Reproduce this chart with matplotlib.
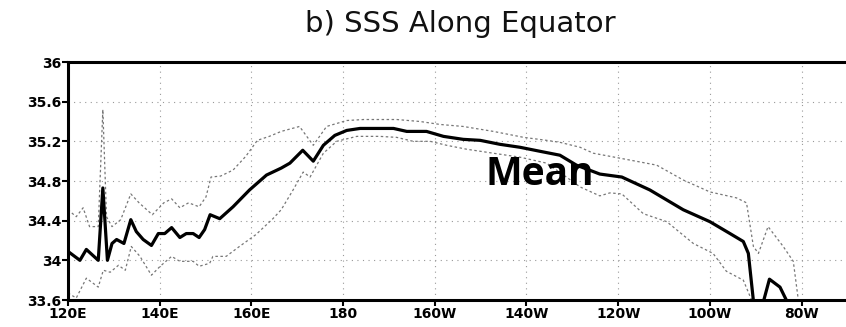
import numpy as np
import matplotlib
matplotlib.use("Agg")
import matplotlib.pyplot as plt

# ---- data (longitude in degrees east, SSS in psu) ----
lon_mean = [120, 122.6, 124, 126.6, 127.6, 128.6, 129.6, 130.6, 132.2, 133.7, 134.9, 136.4,
            138.2, 139.7, 141.1, 142.6, 144.4, 145.8, 147.3, 148.6, 149.8, 151.0, 153.1,
            156, 159.6, 163.3, 166.5, 168.4, 171.2, 173.5, 175.7, 178.2, 180.8, 183.7, 188,
            191, 193.9, 198.2, 201.9, 206.2, 209.9, 214.2, 218.6, 222.9, 227.3, 230.9, 236,
            240.8, 246.9, 254.2, 260, 264.4, 267.3, 268.4, 269.6, 270.4, 271.2, 273, 275.3,
            277.1, 278]
sss_mean = [34.09, 34.0, 34.11, 34.0, 34.73, 34.0, 34.17, 34.21, 34.17, 34.41, 34.29, 34.21,
            34.15, 34.27, 34.27, 34.33, 34.23, 34.27, 34.27, 34.23, 34.31, 34.46, 34.42,
            34.54, 34.71, 34.86, 34.93, 34.98, 35.11, 35.0, 35.16, 35.26, 35.31, 35.33, 35.33,
            35.33, 35.30, 35.30, 35.25, 35.22, 35.21, 35.17, 35.14, 35.10, 35.06, 34.96, 34.87,
            34.84, 34.71, 34.51, 34.39, 34.27, 34.19, 34.07, 33.55, 33.2, 33.5, 33.81, 33.73,
            33.56, 33.4]

lon_upper = [120, 121.8, 123.3, 124.7, 126.6, 127.6, 128.4, 129.6, 131.5, 133.7, 135.5, 138.4,
             140.9, 142.6, 144.4, 146.3, 148.6, 150.1, 151.2, 153.3, 156, 158.8, 161.3, 163.9,
             166.5, 170.5, 173.5, 176.4, 180.8, 184.5, 188, 191.7, 196.8, 201.2, 206.2, 212.8,
             219.4, 224.4, 227.3, 231.7, 234.6, 240.4, 248.4, 254.2, 260, 265.8, 268, 269.5,
             270.6, 272.7, 276, 278.2, 279.3, 280]
sss_upper = [34.51, 34.44, 34.53, 34.34, 34.34, 35.52, 34.44, 34.34, 34.41, 34.67, 34.58, 34.46,
             34.58, 34.62, 34.53, 34.58, 34.54, 34.64, 34.84, 34.85, 34.91, 35.05, 35.21, 35.25,
             35.30, 35.35, 35.16, 35.35, 35.41, 35.42, 35.42, 35.42, 35.40, 35.37, 35.35, 35.30,
             35.24, 35.21, 35.19, 35.14, 35.08, 35.03, 34.96, 34.81, 34.69, 34.63, 34.58, 34.14,
             34.07, 34.34, 34.14, 33.99, 33.6, 33.4]

lon_lower = [120, 121.8, 124, 126.6, 127.7, 129.2, 131, 132.5, 133.8, 135.7, 138.2, 140.1,
             142.6, 144.4, 147.3, 148.6, 150.9, 151.6, 154.5, 157.4, 161, 164.7, 166.5, 169.1,
             171.3, 172.8, 175.7, 178.6, 183, 188, 191.7, 195.3, 199, 202.6, 207, 212.8,
             218.6, 224.4, 227.5, 231.7, 236, 238.2, 240.8, 245.5, 250.6, 256.4, 260.7, 263.6,
             267.3, 269.1, 270]
sss_lower = [33.67, 33.62, 33.82, 33.73, 33.90, 33.88, 33.95, 33.90, 34.14, 34.04, 33.85, 33.94,
             34.04, 33.99, 33.99, 33.94, 33.97, 34.04, 34.04, 34.14, 34.26, 34.42, 34.51, 34.71,
             34.89, 34.84, 35.08, 35.20, 35.25, 35.25, 35.24, 35.20, 35.20, 35.16, 35.12, 35.08,
             35.04, 34.98, 34.88, 34.74, 34.65, 34.68, 34.67, 34.47, 34.39, 34.17, 34.07, 33.89,
             33.80, 33.6, 33.4]

xtick_vals = [120, 140, 160, 180, 200, 220, 240, 260, 280]
xtick_labels = ['120E', '140E', '160E', '180', '160W', '140W', '120W', '100W', '80W']
ytick_vals = [33.6, 34.0, 34.4, 34.8, 35.2, 35.6, 36.0]
ytick_labels = ['33.6', '34', '34.4', '34.8', '35.2', '35.6', '36']

# ---- figure ----
fig = plt.figure(figsize=(8.46, 3.27), dpi=100)
ax = fig.add_axes([68/846, 1 - 300/327, 1 - 68/846, (300 - 62)/327])

ax.plot(lon_upper, sss_upper, color='#777777', lw=0.9, ls=(0, (2, 2)), clip_on=True)
ax.plot(lon_lower, sss_lower, color='#777777', lw=0.9, ls=(0, (2, 2)), clip_on=True)
ax.plot(lon_mean, sss_mean, color='black', lw=2.3, solid_joinstyle='round', clip_on=True)

ax.set_xlim(120, 289.7)
ax.set_ylim(33.6, 36.0)
ax.set_xticks(xtick_vals)
ax.set_xticklabels(xtick_labels)
ax.set_yticks(ytick_vals)
ax.set_yticklabels(ytick_labels)

ax.grid(True, color='#999999', lw=0.8, ls=(0, (1, 4)))
for s in ax.spines.values():
    s.set_linewidth(2.2)
    s.set_color('black')
ax.spines['right'].set_visible(False)
ax.tick_params(axis='both', direction='out', length=4, width=1.5, pad=1,
               labelsize=10)
for lbl in ax.get_xticklabels() + ax.get_yticklabels():
    lbl.set_fontweight('bold')
    lbl.set_family('DejaVu Sans')

fig.text(460/846, 1 - 24/327, 'b) SSS Along Equator', ha='center', va='center',
         fontsize=21, family='DejaVu Sans', color='#111111')
ax.text(222.9, 34.87, 'Mean', ha='center', va='center', fontsize=28,
        fontweight='bold', family='Open Sans', color='black')

fig.savefig('out.png', dpi=100)
